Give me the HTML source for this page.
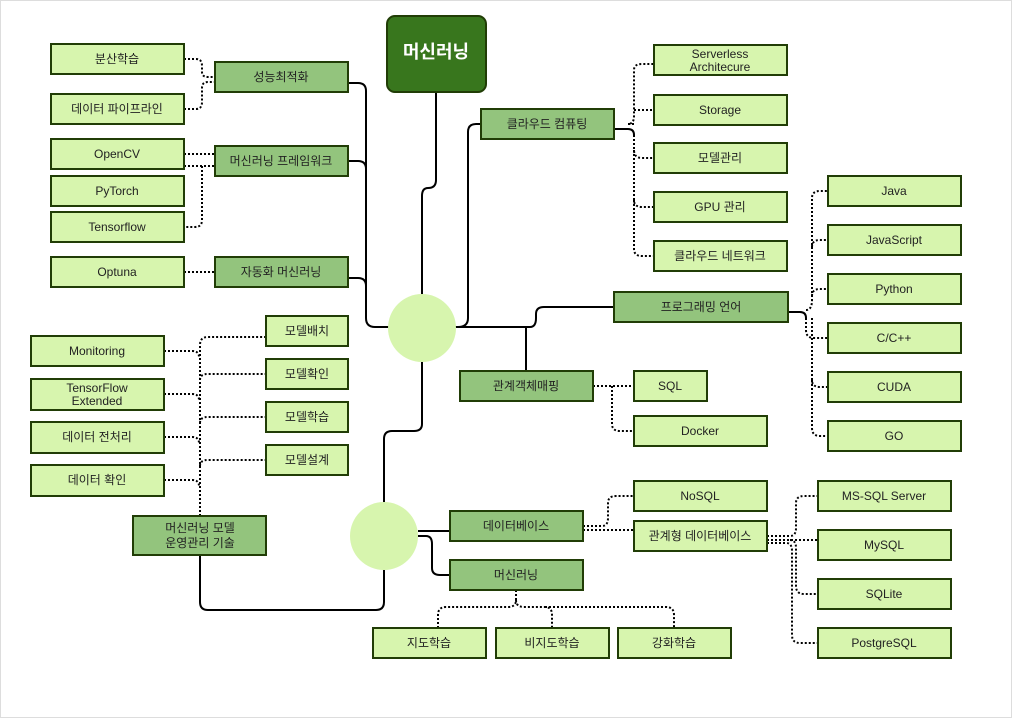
<!DOCTYPE html>
<html><head><meta charset="utf-8"><style>
html,body{margin:0;padding:0;background:#fff}
svg{display:block}
text{font-family:"Liberation Sans","Noto Sans CJK KR",sans-serif;font-size:12px;fill:#222;text-anchor:middle;dominant-baseline:central}
.l{fill:#d7f5ae;stroke:#213d06;stroke-width:2}
.d{fill:#93c47d;stroke:#213d06;stroke-width:2}
.s{fill:none;stroke:#000;stroke-width:2}
.t{fill:none;stroke:#000;stroke-width:2;stroke-dasharray:2 2}
</style></head><body>
<svg width="1012" height="718" viewBox="0 0 1012 718">
<rect x="0.5" y="0.5" width="1011" height="717" fill="#fff" stroke="#ddd"/>
<!-- solid connectors -->
<path class="s" d="M436 92 V180 Q436 188 428 188 Q422 188 422 196 V296"/>
<path class="s" d="M348 83 H358 Q366 83 366 91 V318 Q366 327 375 327 H390"/>
<path class="s" d="M348 161 H358 Q366 161 366 169"/>
<path class="s" d="M348 278 H358 Q366 278 366 286"/>
<path class="s" d="M454 327 H530 Q536 327 536 318 V314 Q536 307 544 307 H614"/>
<path class="s" d="M458 327 Q468 327 468 318 V132 Q468 124 476 124 H481"/>
<path class="s" d="M526 327 V371"/>
<path class="s" d="M422 362 V424 Q422 431 414 431 H392 Q384 431 384 439 V503"/>
<path class="s" d="M384 570 V602 Q384 610 376 610 H208 Q200 610 200 602 V555"/>
<path class="s" d="M418 531 H450"/>
<path class="s" d="M418 536 H426 Q432 536 432 544 V568 Q432 575 440 575 H450"/>
<path class="s" d="M614 129 H628 Q634 129 634 135"/>
<path class="s" d="M788 312 H800 Q806 312 806 318"/>
<!-- dotted -->
<path class="t" d="M184 59 H196 Q202 59 202 66 V72 Q202 77 208 77 H215"/>
<path class="t" d="M184 109 H196 Q202 109 202 102 V88 Q202 82 208 82 H215"/>
<path class="t" d="M184 154 H215"/>
<path class="t" d="M180 166 H215 M202 166 V220 Q202 227 195 227 H184"/>
<path class="t" d="M184 272 H215"/>
<path class="t" d="M200 516 V345 Q200 337 208 337 H266"/>
<path class="t" d="M200 380 Q200 374 208 374 H266"/>
<path class="t" d="M200 423 Q200 417 208 417 H266"/>
<path class="t" d="M200 466 Q200 460 208 460 H266"/>
<path class="t" d="M164 351 H192 Q199 351 199 357"/>
<path class="t" d="M164 394 H192 Q199 394 199 400"/>
<path class="t" d="M164 437 H192 Q199 437 199 443"/>
<path class="t" d="M164 480 H192 Q199 480 199 486"/>
<path class="t" d="M634 124 H628 Q634 124 634 116 V70 Q634 64 642 64 H654"/>
<path class="t" d="M634 110 H654"/>
<path class="t" d="M634 135 V150 Q634 158 642 158 H654"/>
<path class="t" d="M634 150 V200 Q634 207 642 207 H654"/>
<path class="t" d="M634 200 V249 Q634 256 642 256 H654"/>
<path class="t" d="M806 310 Q812 310 812 300 V198 Q812 191 820 191 H828"/>
<path class="t" d="M812 247 Q812 240 820 240 H828"/>
<path class="t" d="M812 296 Q812 289 820 289 H828"/>
<path class="t" d="M806 318 V330 Q806 338 814 338 H828"/>
<path class="t" d="M812 318 V380 Q812 387 820 387 H828"/>
<path class="t" d="M812 380 V428 Q812 436 820 436 H828"/>
<path class="t" d="M593 386 H634"/>
<path class="t" d="M612 386 V424 Q612 431 620 431 H634"/>
<path class="t" d="M583 526 H602 Q608 526 608 518 V503 Q608 496 616 496 H634"/>
<path class="t" d="M583 530 H634"/>
<path class="t" d="M767 536 H790 Q796 536 796 528 V503 Q796 496 804 496 H818"/>
<path class="t" d="M767 540 H818 M790 540 Q796 540 796 548 V586 Q796 594 804 594 H818"/>
<path class="t" d="M767 543 H786 Q792 543 792 551 V635 Q792 643 800 643 H818"/>
<path class="t" d="M516 590 V600 Q516 607 508 607 H446 Q438 607 438 615 V628"/>
<path class="t" d="M516 600 Q516 607 524 607 H545 Q552 607 552 615 V628"/>
<path class="t" d="M545 607 H666 Q674 607 674 615 V628"/>
<!-- circles -->
<circle cx="422" cy="328" r="34" fill="#d7f5ae"/>
<circle cx="384" cy="536" r="34" fill="#d7f5ae"/>
<!-- title -->
<rect x="387" y="16" width="99" height="76" rx="8" fill="#38761d" stroke="#213d06" stroke-width="2"/>
<text x="436" y="52" style="font-size:18px;font-weight:bold;fill:#fff">머신러닝</text>
<!-- boxes -->
<g>
<rect class="l" x="51" y="44" width="133" height="30"/><text x="117" y="59">분산학습</text>
<rect class="l" x="51" y="94" width="133" height="30"/><text x="117" y="109">데이터 파이프라인</text>
<rect class="l" x="51" y="139" width="133" height="30"/><text x="117" y="154">OpenCV</text>
<rect class="l" x="51" y="176" width="133" height="30"/><text x="117" y="191">PyTorch</text>
<rect class="l" x="51" y="212" width="133" height="30"/><text x="117" y="227">Tensorflow</text>
<rect class="l" x="51" y="257" width="133" height="30"/><text x="117" y="272">Optuna</text>
<rect class="d" x="215" y="62" width="133" height="30"/><text x="281" y="77">성능최적화</text>
<rect class="d" x="215" y="146" width="133" height="30"/><text x="281" y="161">머신러닝 프레임워크</text>
<rect class="d" x="215" y="257" width="133" height="30"/><text x="281" y="272">자동화 머신러닝</text>
<rect class="l" x="31" y="336" width="133" height="30"/><text x="97" y="351">Monitoring</text>
<rect class="l" x="31" y="379" width="133" height="31"/><text x="97" y="388">TensorFlow</text><text x="97" y="401">Extended</text>
<rect class="l" x="31" y="422" width="133" height="31"/><text x="97" y="437">데이터 전처리</text>
<rect class="l" x="31" y="465" width="133" height="31"/><text x="97" y="480">데이터 확인</text>
<rect class="l" x="266" y="316" width="82" height="30"/><text x="307" y="331">모델배치</text>
<rect class="l" x="266" y="359" width="82" height="30"/><text x="307" y="374">모델확인</text>
<rect class="l" x="266" y="402" width="82" height="30"/><text x="307" y="417">모델학습</text>
<rect class="l" x="266" y="445" width="82" height="30"/><text x="307" y="460">모델설계</text>
<rect class="d" x="133" y="516" width="133" height="39"/><text x="200" y="528">머신러닝 모델</text><text x="200" y="543">운영관리 기술</text>
<rect class="d" x="481" y="109" width="133" height="30"/><text x="547" y="124">클라우드 컴퓨팅</text>
<rect class="l" x="654" y="45" width="133" height="30"/><text x="720" y="54">Serverless</text><text x="720" y="67">Architecure</text>
<rect class="l" x="654" y="95" width="133" height="30"/><text x="720" y="110">Storage</text>
<rect class="l" x="654" y="143" width="133" height="30"/><text x="720" y="158">모델관리</text>
<rect class="l" x="654" y="192" width="133" height="30"/><text x="720" y="207">GPU 관리</text>
<rect class="l" x="654" y="241" width="133" height="30"/><text x="720" y="256">클라우드 네트워크</text>
<rect class="d" x="614" y="292" width="174" height="30"/><text x="701" y="307">프로그래밍 언어</text>
<rect class="l" x="828" y="176" width="133" height="30"/><text x="894" y="191">Java</text>
<rect class="l" x="828" y="225" width="133" height="30"/><text x="894" y="240">JavaScript</text>
<rect class="l" x="828" y="274" width="133" height="30"/><text x="894" y="289">Python</text>
<rect class="l" x="828" y="323" width="133" height="30"/><text x="894" y="338">C/C++</text>
<rect class="l" x="828" y="372" width="133" height="30"/><text x="894" y="387">CUDA</text>
<rect class="l" x="828" y="421" width="133" height="30"/><text x="894" y="436">GO</text>
<rect class="d" x="460" y="371" width="133" height="30"/><text x="526" y="386">관계객체매핑</text>
<rect class="l" x="634" y="371" width="73" height="30"/><text x="670" y="386">SQL</text>
<rect class="l" x="634" y="416" width="133" height="30"/><text x="700" y="431">Docker</text>
<rect class="d" x="450" y="511" width="133" height="30"/><text x="516" y="526">데이터베이스</text>
<rect class="l" x="634" y="481" width="133" height="30"/><text x="700" y="496">NoSQL</text>
<rect class="l" x="634" y="521" width="133" height="30"/><text x="700" y="536">관계형 데이터베이스</text>
<rect class="l" x="818" y="481" width="133" height="30"/><text x="884" y="496">MS-SQL Server</text>
<rect class="l" x="818" y="530" width="133" height="30"/><text x="884" y="545">MySQL</text>
<rect class="l" x="818" y="579" width="133" height="30"/><text x="884" y="594">SQLite</text>
<rect class="l" x="818" y="628" width="133" height="30"/><text x="884" y="643">PostgreSQL</text>
<rect class="d" x="450" y="560" width="133" height="30"/><text x="516" y="575">머신러닝</text>
<rect class="l" x="373" y="628" width="113" height="30"/><text x="429" y="643">지도학습</text>
<rect class="l" x="496" y="628" width="113" height="30"/><text x="552" y="643">비지도학습</text>
<rect class="l" x="618" y="628" width="113" height="30"/><text x="674" y="643">강화학습</text>
</g>
</svg>
</body></html>
